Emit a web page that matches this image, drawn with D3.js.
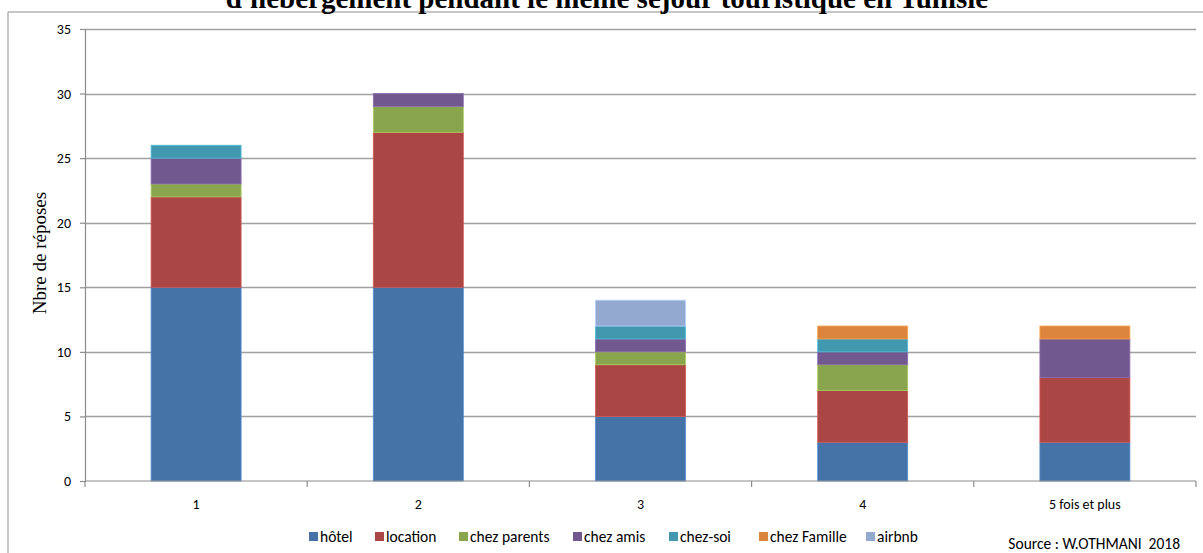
<!DOCTYPE html>
<html><head><meta charset="utf-8">
<script src="https://cdn.jsdelivr.net/npm/d3@7"></script>
<style>body{margin:0;background:#fff;} svg{display:block;}</style>
</head><body>
<svg id="c" width="1203" height="553"></svg>
<script>
const categories = ["1", "2", "3", "4", "5 fois et plus"];
const seriesNames = ["hôtel", "location", "chez parents", "chez amis", "chez-soi", "chez Famille", "airbnb"];
const hotel       = [15, 15, 5, 3, 3];
const location_   = [7, 12, 4, 4, 5];
const chezParents = [1, 2, 1, 2, 0];
const chezAmis    = [2, 1, 1, 1, 3];
const chezSoi     = [1, 0, 1, 1, 0];
const chezFamille = [0, 0, 0, 1, 1];
const airbnb      = [0, 0, 2, 0, 0];
const yTicks = [0, 5, 10, 15, 20, 25, 30, 35];
const colors = ["#4572A7", "#AA4643", "#89A54E", "#71588F", "#4198AF", "#DB843D", "#93A9CF"];
const titleText = "d'hébergement pendant le même séjour touristique en Tunisie";
const yLabel = "Nbre de réposes";
const sourceText = "Source : W.OTHMANI  2018";

const seriesValues = [hotel, location_, chezParents, chezAmis, chezSoi, chezFamille, airbnb];
const rows = categories.map((c, i) => {
  const r = {cat: c};
  seriesNames.forEach((s, j) => r[s] = seriesValues[j][i]);
  return r;
});

const svg = d3.select("#c");
const L = 85, R = 1196, T = 29, B = 481;
const sans = "Carlito, Calibri, Liberation Sans, Arial, sans-serif";
const serif = "Liberation Serif, Times New Roman, serif";

// frame
svg.append("line").attr("x1", 8).attr("x2", 1203).attr("y1", 12).attr("y2", 12)
  .attr("stroke", "#b3b3b3").attr("stroke-width", 1.5);
svg.append("line").attr("x1", 8).attr("x2", 8).attr("y1", 12).attr("y2", 553)
  .attr("stroke", "#b3b3b3").attr("stroke-width", 1.5);

// title (clipped at top as in the reference)
svg.append("text").attr("x", 607).attr("y", 8).attr("text-anchor", "middle")
  .attr("font-family", serif).attr("font-weight", "bold")
  .attr("font-size", 29).text(titleText);

const x = d3.scaleBand().domain(categories).range([L, R]).paddingInner(0.595).paddingOuter(0.2975);
const y = d3.scaleLinear().domain([0, 35]).range([B, T]);

// grid
svg.append("g").selectAll("line").data(yTicks.filter(t => t > 0)).join("line")
  .attr("x1", L).attr("x2", R).attr("y1", d => Math.round(y(d)) + 0.5).attr("y2", d => Math.round(y(d)) + 0.5)
  .attr("stroke", "#a0a0a0").attr("stroke-width", 1.3);

// stacked bars
const stack = d3.stack().keys(seriesNames)(rows);
const g = svg.append("g");
stack.forEach((layer, j) => {
  g.append("g").selectAll("rect").data(layer.filter(d => d[1] - d[0] > 0)).join("rect")
    .attr("x", d => x(d.data.cat))
    .attr("width", x.bandwidth())
    .attr("y", d => y(d[1]))
    .attr("height", d => y(d[0]) - y(d[1]))
    .attr("fill", colors[j])
    .attr("stroke", d3.color(colors[j]).brighter(0.6))
    .attr("stroke-width", 0.8);
});

// y axis
const yAxis = d3.axisLeft(y).tickValues(yTicks).tickSize(5).tickPadding(9);
const ya = svg.append("g").attr("transform", `translate(${L},0)`).call(yAxis);
ya.select(".domain").attr("stroke", "#8c8c8c").attr("stroke-width", 1.2);
ya.selectAll(".tick line").attr("stroke", "#8c8c8c").attr("stroke-width", 1.2);
ya.selectAll("text").attr("font-family", sans).attr("font-size", 14).attr("fill", "#000");

// x axis
const xa = svg.append("g").attr("transform", `translate(0,${B})`);
xa.append("line").attr("x1", L).attr("x2", R).attr("y1", 0).attr("y2", 0).attr("stroke", "#8c8c8c").attr("stroke-width", 1.2);
const boundaries = d3.range(categories.length + 1).map(i => L + i * x.step());
xa.selectAll(".bt").data(boundaries).join("line").attr("class", "bt")
  .attr("x1", d => d).attr("x2", d => d).attr("y1", 0).attr("y2", 6)
  .attr("stroke", "#8c8c8c").attr("stroke-width", 1.2);
xa.selectAll(".cl").data(categories).join("text").attr("class", "cl")
  .attr("x", d => x(d) + x.bandwidth() / 2).attr("y", 28).attr("text-anchor", "middle")
  .attr("font-family", sans).attr("font-size", 14).text(d => d);

// y label
svg.append("text").attr("transform", "translate(46,253) rotate(-90)").attr("text-anchor", "middle")
  .attr("font-family", serif).attr("font-size", 19).text(yLabel);

// legend
const lg = svg.append("g").attr("font-family", sans).attr("font-size", 15.5);
const legendX = [309, 375, 459, 573, 669, 759, 866];
seriesNames.forEach((s, j) => {
  lg.append("rect").attr("x", legendX[j]).attr("y", 532).attr("width", 9).attr("height", 9).attr("fill", colors[j]);
  lg.append("text").attr("x", legendX[j] + 11).attr("y", 542).text(s);
});

svg.append("text").attr("x", 1180).attr("y", 549).attr("text-anchor", "end")
  .attr("font-family", sans).attr("font-size", 15.5).attr("xml:space", "preserve").text(sourceText);
</script>
</body></html>
